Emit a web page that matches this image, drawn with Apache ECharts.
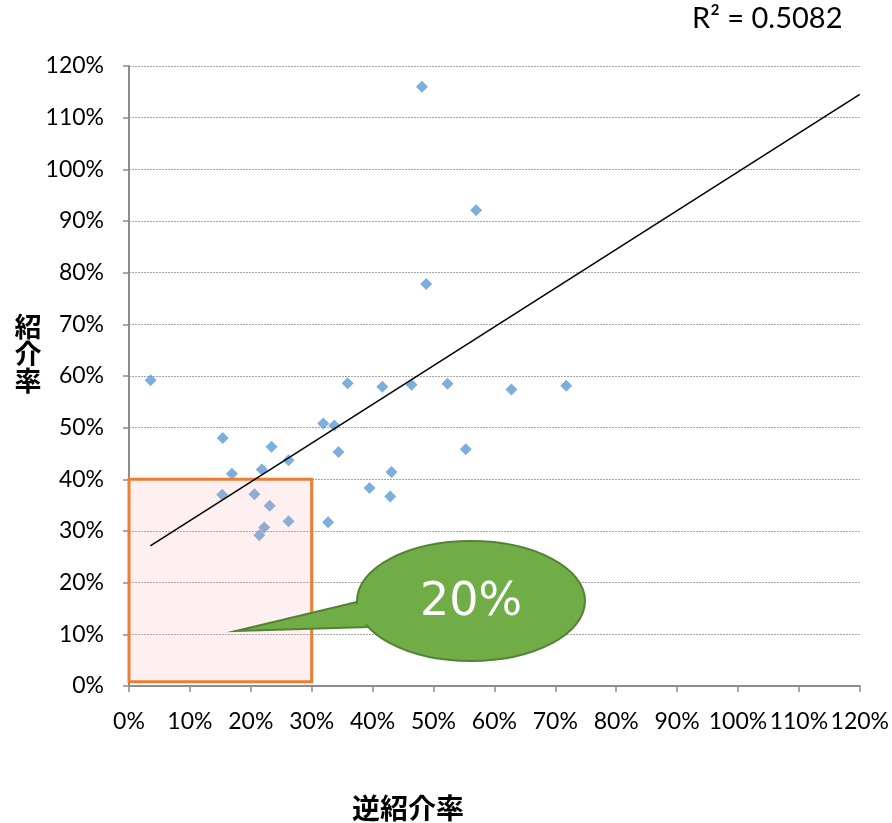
<!DOCTYPE html>
<html><head><meta charset="utf-8">
<script src="https://cdn.jsdelivr.net/npm/echarts@6/dist/echarts.min.js"></script>
<style>html,body{margin:0;padding:0;background:#fff}#c{width:892px;height:823px}</style>
</head><body><div id="c"></div>
<script>
// 逆紹介率 (x, %) and 紹介率 (y, %)
const reverseReferralRate = [3.55,48.1,57.0,48.8,35.9,41.6,46.4,52.3,62.8,71.8,31.9,33.7,34.4,55.3,15.4,23.4,26.2,16.9,21.8,43.1,39.5,42.9,15.3,20.6,23.1,26.2,32.7,22.2,21.4];
const referralRate        = [59.2,116.0,92.1,77.8,58.6,57.9,58.3,58.5,57.4,58.1,50.8,50.4,45.3,45.8,48.0,46.3,43.7,41.1,41.9,41.4,38.3,36.7,37.0,37.1,34.9,31.9,31.7,30.7,29.2];
// linear trendline end points as drawn
const trendX = [3.5, 120];
const trendY = [27.1, 114.5];
// highlighted area [x0, y0, x1, y1]
const boxArea = [[0, 0.8, 30, 40]];
const axisMin = 0, axisMax = 120, axisStep = 10;
const r2Label = 'R² = 0.5082';
const calloutLabel = '20%';
const xName = '逆紹介率';
const yName = '紹介率';

const chart = echarts.init(document.getElementById('c'), null, {renderer: 'canvas'});
const points = reverseReferralRate.map((x, i) => [x, referralRate[i]]);
const trend = trendX.map((x, i) => [x, trendY[i]]);
const tickFont = {fontFamily: 'Lato', fontSize: 23, color: '#000'};
const axisCommon = {
  type: 'value', min: axisMin, max: axisMax, interval: axisStep,
  axisLine: {show: true, lineStyle: {color: '#8c8c8c', width: 2}},
  axisTick: {show: true, length: 6, lineStyle: {color: '#8c8c8c', width: 1.5}},
  axisLabel: Object.assign({formatter: '{value}%'}, tickFont)
};
chart.setOption({
  animation: false,
  backgroundColor: '#fff',
  grid: {left: 129, right: 30, top: 66, bottom: 137, containLabel: false},
  xAxis: Object.assign({}, axisCommon, {
    splitLine: {show: false},
    axisLabel: Object.assign({}, axisCommon.axisLabel, {margin: 24})
  }),
  yAxis: Object.assign({}, axisCommon, {
    splitLine: {show: true, lineStyle: {color: '#a6a6a6', type: [2, 1], width: 1}},
    axisLabel: Object.assign({}, axisCommon.axisLabel, {margin: 25})
  }),
  series: [
    {type: 'scatter', data: points, symbol: 'diamond', symbolSize: 12,
     itemStyle: {color: '#5B9BD5'}, z: 2},
    {type: 'custom', z: 3, data: boxArea, silent: true,
     renderItem: function (params, api) {
       const p0 = api.coord([api.value(0), api.value(1)]);
       const p1 = api.coord([api.value(2), api.value(3)]);
       return {type: 'rect',
         shape: {x: p0[0], y: p1[1], width: p1[0] - p0[0], height: p0[1] - p1[1]},
         style: {fill: 'rgba(250,160,160,0.16)', stroke: '#ED7D31', lineWidth: 3}};
     }},
    {type: 'line', data: trend, symbol: 'none', z: 4,
     lineStyle: {color: '#000', width: 1.5}}
  ],
  graphic: [
    {type: 'text', left: 692, top: 4, z: 10,
     style: {text: r2Label, fontFamily: 'Lato', fontSize: 29, fill: '#000'}},
    {type: 'text', x: 28, y: 354, z: 10,
     style: {text: yName.split('').join('\n'), fontFamily: 'Noto Sans CJK JP', fontWeight: 'bold',
             fontSize: 27, lineHeight: 27, fill: '#000', align: 'center', verticalAlign: 'middle'}},
    {type: 'text', x: 408, y: 808, z: 10,
     style: {text: xName, fontFamily: 'Noto Sans CJK JP', fontWeight: 'bold',
             fontSize: 28, fill: '#000', align: 'center', verticalAlign: 'middle'}},
    // callout
    {type: 'polygon', z: 20, shape: {points: [[357, 602], [236, 631], [368, 627]]},
     style: {fill: '#70AD47', stroke: '#548235', lineWidth: 2}},
    {type: 'ellipse', z: 21, shape: {cx: 471, cy: 601, rx: 114, ry: 60},
     style: {fill: '#70AD47', stroke: '#548235', lineWidth: 2}},
    {type: 'polygon', z: 22, shape: {points: [[359, 603], [345, 612], [366, 625], [375, 615]]},
     style: {fill: '#70AD47'}},
    {type: 'text', x: 471, y: 603, z: 23,
     style: {text: calloutLabel, fontFamily: 'DejaVu Sans', fontSize: 46,
             fill: '#fff', align: 'center', verticalAlign: 'middle'}}
  ]
});
</script></body></html>
